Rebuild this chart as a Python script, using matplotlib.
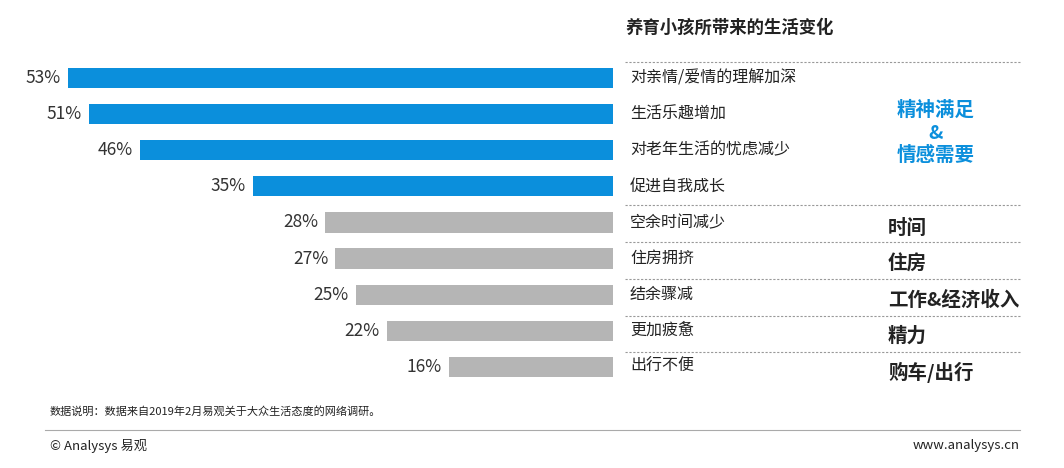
import matplotlib.pyplot as plt

plt.rcParams['font.family'] = ['Noto Sans CJK SC', 'DejaVu Sans']

labels = ['对亲情/爱情的理解加深', '生活乐趣增加', '对老年生活的忧虑减少', '促进自我成长',
          '空余时间减少', '住房拥挤', '结余骤减', '更加疲惫', '出行不便']
values = [53, 51, 46, 35, 28, 27, 25, 22, 16]
colors = ['#0B8FDC'] * 4 + ['#B5B5B5'] * 5
groups = ['时间', '住房', '工作&经济收入', '精力', '购车/出行']

W, H = 1064, 468
fig = plt.figure(figsize=(W / 100, H / 100), dpi=100)

def fx(px):
    return px / W

def fy(py):
    return 1 - py / H

ax = fig.add_axes([0, fy(385), fx(613), (385 - 60) / H])
ax.barh(range(len(values)), values, height=0.56, color=colors)
ax.set_xlim(613 / 10.28, 0)
ax.set_ylim(len(values) - 0.5, -0.5)
ax.axis('off')
for i, v in enumerate(values):
    ax.text(v + 0.7, i, f'{v}%', ha='right', va='center', fontsize=12.5, color='#333333')

row_y = [78 + 36.1 * i for i in range(9)]
for lab, y in zip(labels, row_y):
    fig.text(fx(630), fy(y), lab, ha='left', va='center', fontsize=11.5, color='#222222')

for y in [62, 205, 242, 279, 316, 352]:
    fig.add_artist(plt.Line2D([fx(625), fx(1020)], [fy(y), fy(y)], color='#999999',
                              lw=0.8, ls=(0, (2, 1.5))))

fig.text(fx(625), fy(28), '养育小孩所带来的生活变化', ha='left', va='center',
         fontsize=12.5, fontweight='bold', color='#222222')
fig.text(fx(936), fy(133), '精神满足\n&\n情感需要', ha='center', va='center',
         fontsize=14, fontweight='bold', color='#0B8FDC', linespacing=1.25)
for g, y in zip(groups, [228, 264, 300, 336, 372]):
    fig.text(fx(888), fy(y), g, ha='left', va='center', fontsize=14,
             fontweight='bold', color='#222222')

fig.text(fx(50), fy(411), '数据说明：数据来自2019年2月易观关于大众生活态度的网络调研。',
         ha='left', va='center', fontsize=8, color='#222222')
fig.add_artist(plt.Line2D([fx(45), fx(1020)], [fy(430), fy(430)], color='#AAAAAA', lw=0.8))
fig.text(fx(50), fy(446), '© Analysys 易观', ha='left', va='center', fontsize=9.5, color='#222222')
fig.text(fx(1020), fy(446), 'www.analysys.cn', ha='right', va='center', fontsize=9.5, color='#222222')

fig.savefig('out.png', dpi=100)
